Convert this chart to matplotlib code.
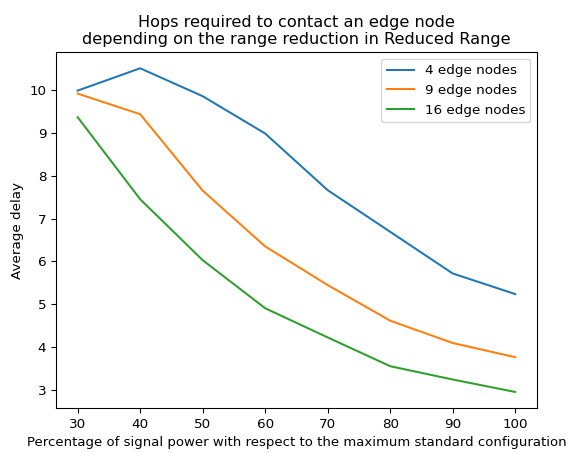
import matplotlib
matplotlib.use("Agg")
import matplotlib.pyplot as plt

# percentage of signal power
power = [30, 40, 50, 60, 70, 80, 90, 100]

nodes_4 = [9.98, 10.50, 9.85, 8.98, 7.66, 6.69, 5.72, 5.24]
nodes_9 = [9.91, 9.43, 7.65, 6.35, 5.45, 4.62, 4.10, 3.77]
nodes_16 = [9.36, 7.45, 6.03, 4.91, 4.23, 3.56, 3.25, 2.96]

labels = ["4 edge nodes", "9 edge nodes", "16 edge nodes"]

dpi = 97
fig, ax = plt.subplots(figsize=(569 / dpi, 453 / dpi), dpi=dpi)
ax.plot(power, nodes_4, label=labels[0])
ax.plot(power, nodes_9, label=labels[1])
ax.plot(power, nodes_16, label=labels[2])

ax.set_title("Hops required to contact an edge node\n"
             "depending on the range reduction in Reduced Range")
ax.set_xlabel("Percentage of signal power with respect to the maximum standard configuration",
              fontsize=9.8)
ax.set_ylabel("Average delay")
ax.legend(loc="upper right")

plt.subplots_adjust(left=0.098, right=0.944, top=0.885, bottom=0.099)
plt.savefig("out.png", dpi=dpi)
